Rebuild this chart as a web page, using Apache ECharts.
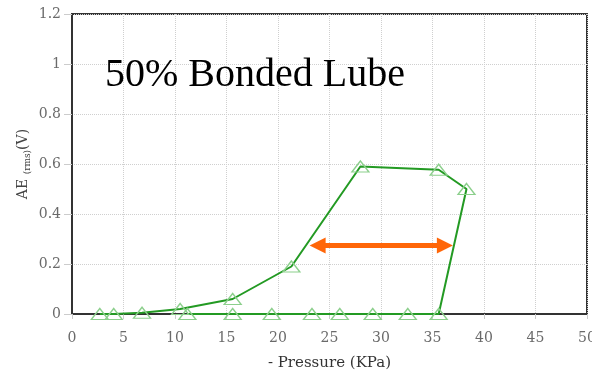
<!DOCTYPE html>
<html>
<head>
<meta charset="utf-8">
<script src="https://cdn.jsdelivr.net/npm/echarts@6/dist/echarts.min.js"></script>
<style>
  html, body { margin: 0; padding: 0; background: #fff; }
  #chart { width: 592px; height: 370px; }
</style>
</head>
<body>
<div id="chart"></div>
<script>
// Loading / unloading cycle: pressure (KPa) vs AE rms voltage (V)
const pressure = [2.7, 4.05, 6.8, 10.5, 15.6, 21.3, 28.0, 35.6, 38.3, 35.6, 32.6, 29.2, 26.0, 23.3, 19.4, 15.6, 11.2];
const aeRms    = [0, 0, 0.005, 0.02, 0.06, 0.19, 0.59, 0.577, 0.5, 0, 0, 0, 0, 0, 0, 0, 0];

// Hysteresis span marker (double arrow) in data units
const spanStart = [23.85, 0.274];
const spanEnd   = [36.2, 0.274];

const chartTitle = '50% Bonded Lube';

const serif = '"DejaVu Serif", "Liberation Serif", serif';

const chart = echarts.init(document.getElementById('chart'));

chart.setOption({
  animation: false,
  backgroundColor: '#fff',
  grid: {
    left: 72, right: 5, top: 14, bottom: 56,
    containLabel: false,
    outerBoundsMode: 'none',
    show: true, borderColor: '#333', borderWidth: 2
  },
  graphic: [{
    type: 'text',
    x: 105, y: 75.5,
    style: {
      text: chartTitle,
      font: '40px "Liberation Serif", "Times New Roman", serif',
      fill: '#000',
      align: 'left',
      verticalAlign: 'middle'
    },
    z: 100
  }],
  xAxis: {
    type: 'value',
    min: 0, max: 50, interval: 5,
    name: '- Pressure (KPa)',
    nameLocation: 'middle',
    nameGap: 42,
    nameMoveOverlap: false,
    nameTextStyle: { fontFamily: serif, fontSize: 15, color: '#333' },
    axisLine: { show: true, lineStyle: { color: '#333', width: 2 } },
    axisTick: { show: true, length: 5, lineStyle: { color: '#ccc' } },
    axisLabel: { margin: 17, fontFamily: serif, fontSize: 14, color: '#6a6a6a' },
    splitLine: { show: true, lineStyle: { type: 'dotted', color: '#cfcfcf', width: 1 } }
  },
  yAxis: {
    type: 'value',
    min: 0, max: 1.2, interval: 0.2,
    name: '{a|AE }{s|(rms)}{a|(V)}',
    nameLocation: 'middle',
    nameGap: 40,
    nameMoveOverlap: false,
    nameTextStyle: {
      color: '#444',
      rich: {
        a: { fontFamily: serif, fontSize: 14, color: '#444', lineHeight: 18, verticalAlign: 'middle' },
        s: { fontFamily: serif, fontSize: 9, color: '#444', lineHeight: 18, verticalAlign: 'bottom' }
      }
    },
    axisLine: { show: true, lineStyle: { color: '#333', width: 2 } },
    axisTick: { show: true, length: 8, lineStyle: { color: '#ccc' } },
    axisLabel: { margin: 11, fontFamily: serif, fontSize: 14, color: '#6a6a6a' },
    splitLine: { show: true, lineStyle: { type: 'dotted', color: '#cfcfcf', width: 1 } }
  },
  series: [{
    type: 'line',
    data: pressure.map((p, i) => [p, aeRms[i]]),
    showAllSymbol: true,
    symbol: 'triangle',
    symbolSize: [17, 11],
    lineStyle: { color: '#239a23', width: 2 },
    itemStyle: { color: 'rgba(255,255,255,0)', borderColor: '#8ccf8c', borderWidth: 1.3 },
    emphasis: { disabled: true },
    markLine: {
      silent: true,
      animation: false,
      symbol: ['triangle', 'triangle'],
      symbolSize: [16, 16],
      label: { show: false },
      lineStyle: { color: '#ff6608', width: 5, type: 'solid' },
      emphasis: { disabled: true },
      data: [[{ coord: spanStart }, { coord: spanEnd }]]
    }
  }]
});
</script>
</body>
</html>
